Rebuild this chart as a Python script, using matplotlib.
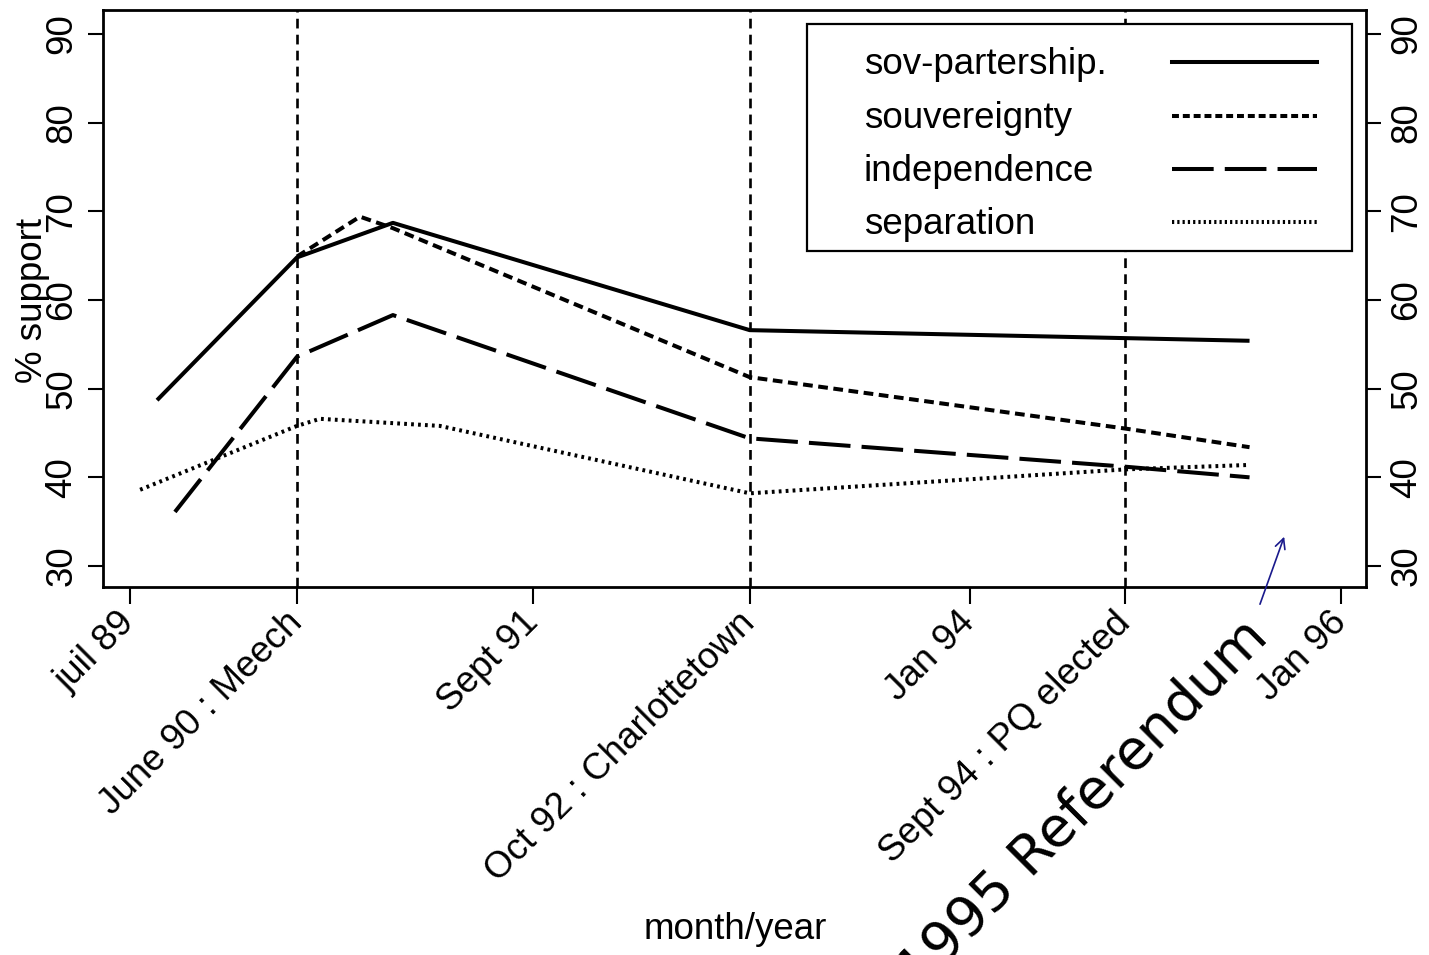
import matplotlib
matplotlib.use("Agg")
import matplotlib.pyplot as plt
from matplotlib.patches import Rectangle
from matplotlib.lines import Line2D

plt.rcParams['font.family'] = ['Liberation Sans', 'DejaVu Sans']
plt.rcParams['lines.scale_dashes'] = False

# Poll dates as decimal years, support in percent
partnership_x = [1989.645, 1990.396, 1990.911, 1992.826, 1994.843, 1995.509]
partnership_y = [48.7, 64.8, 68.7, 56.6, 55.7, 55.4]

sovereignty_x = [1990.396, 1990.734, 1990.911, 1992.826, 1994.843, 1995.509]
sovereignty_y = [64.9, 69.4, 68.1, 51.3, 45.5, 43.4]

independence_x = [1989.741, 1990.396, 1990.911, 1992.826, 1994.843, 1995.509]
independence_y = [36.1, 53.6, 58.3, 44.4, 41.2, 40.0]

separation_x = [1989.554, 1990.396, 1990.519, 1991.163, 1992.826, 1994.843, 1995.509]
separation_y = [38.6, 45.8, 46.6, 45.8, 38.2, 40.9, 41.4]

series_names = ["sov-partership.", "souvereignty", "independence", "separation"]

# Political events marked with vertical lines
event_x = [1990.396, 1992.826, 1994.843]

tick_x = [1989.5, 1990.396, 1991.662, 1992.826, 1994.006, 1994.843, 1996.0]
tick_labels = ["juil 89", "June 90 : Meech", "Sept 91", "Oct 92 : Charlottetown",
               "Jan 94", "Sept 94 : PQ elected", "Jan 96"]
y_ticks = [30, 40, 50, 60, 70, 80, 90]

FS = 26.5
styles = [
    dict(linestyle="-"),
    dict(linestyle=(0, (7.0, 4.0))),
    dict(linestyle=(0, (30, 8))),
    dict(linestyle=(0, (2.0, 3.0))),
]
LW = 2.9

fig = plt.figure(figsize=(14.29, 9.55), dpi=100)
ax = fig.add_axes([0.0721, 0.3853, 0.8838, 0.6042])
ax.set_xlim(1989.355, 1996.134)
ax.set_ylim(27.63, 92.7)

for ex in event_x:
    ax.axvline(ex, color="black", lw=1.9, linestyle=(0, (7, 4.5)), zorder=1)

data = [(partnership_x, partnership_y), (sovereignty_x, sovereignty_y),
        (independence_x, independence_y), (separation_x, separation_y)]
for (xs, ys), st in zip(data, styles):
    ax.plot(xs, ys, color="black", lw=LW, solid_capstyle="butt",
            dash_capstyle="butt", zorder=3, **st)

for s in ax.spines.values():
    s.set_linewidth(2.0)

ax.set_xticks(tick_x)
ax.set_xticklabels(tick_labels, fontsize=FS)
for lbl in ax.get_xticklabels():
    lbl.set_rotation(45)
    lbl.set_ha("right")
    lbl.set_va("center")
    lbl.set_rotation_mode("anchor")

ax.set_yticks(y_ticks)
ax.set_yticklabels([str(v) for v in y_ticks], fontsize=FS)
ax.tick_params(axis="y", left=True, right=True, labelleft=True, labelright=True,
               length=11, width=1.5, pad=6)
ax.tick_params(axis="x", length=12, width=1.5, pad=10)
for t in ax.yaxis.get_major_ticks():
    t.label1.set_rotation(90)
    t.label1.set_va("center")
    t.label2.set_rotation(90)
    t.label2.set_va("center")
    t.label2.set_ha("left")

ax.set_ylabel("% support", fontsize=FS, va="center")
ax.yaxis.set_label_coords(-0.0560, 0.497)
ax.set_xlabel("month/year", fontsize=FS, va="center")
ax.xaxis.set_label_coords(0.5004, -0.594)

# Legend: labels on the left, line samples on the right
ax.add_patch(Rectangle((0.5574, 0.5823), 0.4315, 0.3934, transform=ax.transAxes,
                       facecolor="white", edgecolor="black", lw=1.6, zorder=4))
row_y = [0.9099, 0.8163, 0.7244, 0.6326]
leg_dashes = [dict(linestyle="-"), dict(linestyle=(0, (5.0, 2.8))),
              dict(linestyle=(0, (30, 8))), dict(linestyle=(0, (1.6, 2.2)))]
for name, st, ry in zip(series_names, leg_dashes, row_y):
    ax.text(0.6025, ry - 0.005, name, transform=ax.transAxes, fontsize=FS,
            ha="left", va="center", zorder=5)
    ax.add_line(Line2D([0.8464, 0.9612], [ry, ry], transform=ax.transAxes,
                       color="black", lw=LW, dash_capstyle="butt", zorder=5, **st))

ax.text(1995.62, 21.8, "1995 Referendum", fontsize=40, family="DejaVu Sans",
        rotation=45, rotation_mode="anchor", ha="right", va="baseline",
        clip_on=False)
ax.annotate("", xy=(1995.70, 33.6), xytext=(1995.56, 25.4),
            arrowprops=dict(arrowstyle="->", color="#1a1a8c", lw=1.2,
                            mutation_scale=18),
            annotation_clip=False)

fig.savefig("out.png", dpi=100)
